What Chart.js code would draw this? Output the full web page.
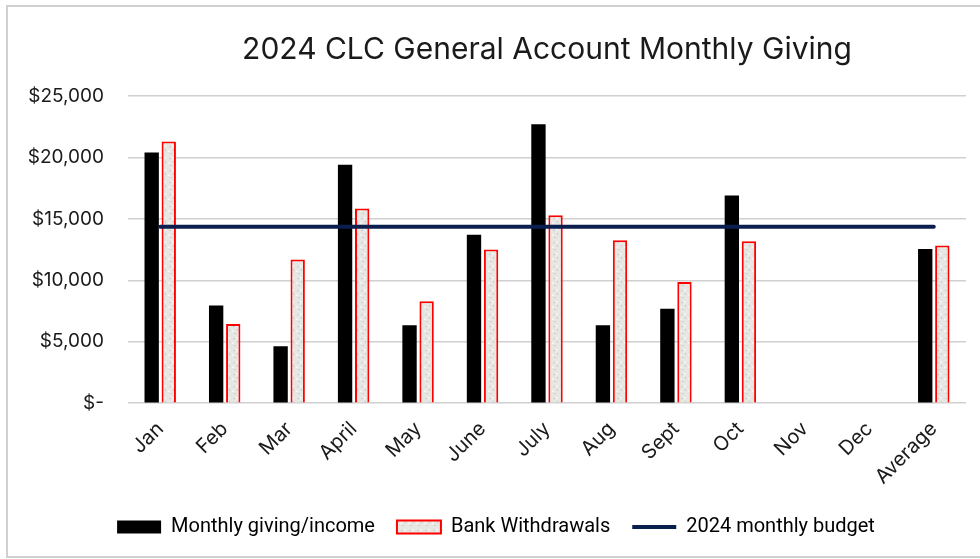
<!DOCTYPE html>
<html>
<head>
<meta charset="utf-8">
<script src="https://cdn.jsdelivr.net/npm/chart.js@4.4.1/dist/chart.umd.min.js"></script>
<style>
  html, body { margin: 0; padding: 0; background: #fff; overflow: hidden; }
  #frame {
    position: absolute; left: 6px; top: 5px; width: 990px; height: 553px;
    border: 2px solid #d0d0d0; box-sizing: border-box;
  }
  #wrap { position: absolute; left: 0; top: 0; width: 980px; height: 559px; }
</style>
</head>
<body>
<div id="frame"></div>
<div id="wrap"><canvas id="chart"></canvas></div>
<script>
// ===== DATA =====
const months = ['Jan', 'Feb', 'Mar', 'April', 'May', 'June', 'July', 'Aug', 'Sept', 'Oct', 'Nov', 'Dec', 'Average'];
const givingIncome = [20400, 7950, 4620, 19400, 6340, 13700, 22700, 6340, 7680, 16900, null, null, 12550];
const bankWithdrawals = [21300, 6450, 11700, 15850, 8300, 12500, 15300, 13250, 9850, 13180, null, null, 12830];
const monthlyBudget = [14350, 14350, 14350, 14350, 14350, 14350, 14350, 14350, 14350, 14350, 14350, 14350, 14350];
const yTicks = [0, 5000, 10000, 15000, 20000, 25000];

// ===== SPECKLED FILL FOR WITHDRAWAL BARS =====
function makePattern() {
  const c = document.createElement('canvas');
  c.width = 8; c.height = 12;
  const g = c.getContext('2d');
  g.fillStyle = '#e6e6e2';
  g.fillRect(0, 0, 8, 12);
  g.fillStyle = '#cdcdc9';
  g.fillRect(1, 2, 2, 1);
  g.fillRect(5, 5, 1, 2);
  g.fillRect(2, 9, 2, 1);
  g.fillStyle = '#f3f3f1';
  g.fillRect(4, 1, 2, 2);
  g.fillRect(0, 6, 2, 2);
  return g.createPattern(c, 'repeat');
}

document.addEventListener('DOMContentLoaded', () => {
  const ctx = document.getElementById('chart').getContext('2d');
  const speckle = makePattern();

  new Chart(ctx, {
    data: {
      labels: months,
      datasets: [
        {
          type: 'line',
          label: '2024 monthly budget',
          data: monthlyBudget,
          borderColor: '#0b1f4e',
          backgroundColor: '#0b1f4e',
          borderWidth: 4,
          borderCapStyle: 'round',
          pointRadius: 0,
          pointStyle: 'line',
          order: 0
        },
        {
          type: 'bar',
          label: 'Monthly giving/income',
          data: givingIncome,
          backgroundColor: '#000',
          borderColor: '#000',
          borderWidth: 0,
          pointStyle: 'rect',
          categoryPercentage: 0.53,
          barPercentage: 0.84,
          order: 1
        },
        {
          type: 'bar',
          label: 'Bank Withdrawals',
          data: bankWithdrawals,
          backgroundColor: speckle,
          borderColor: '#ff0000',
          borderWidth: 2,
          pointStyle: 'rect',
          categoryPercentage: 0.53,
          barPercentage: 0.84,
          order: 2
        }
      ]
    },
    options: {
      responsive: true,
      maintainAspectRatio: false,
      animation: false,
      layout: { padding: { left: 26, right: 14, top: 20, bottom: 12 } },
      plugins: {
        title: {
          display: true,
          text: '2024 CLC General Account Monthly Giving',
          color: '#1a1a1a',
          fullSize: false,
          font: { family: 'Inter', size: 30, weight: 'normal' },
          padding: { top: 12, bottom: 28 }
        },
        legend: {
          position: 'bottom',
          labels: {
            color: '#000',
            font: { family: 'Roboto', size: 20 },
            usePointStyle: true,
            pointStyleWidth: 44,
            boxHeight: 13,
            padding: 22,
            sort: (a, b) => [1, 2, 0].indexOf(a.datasetIndex) - [1, 2, 0].indexOf(b.datasetIndex)
          }
        },
        tooltip: { enabled: false }
      },
      scales: {
        x: {
          grid: { display: false },
          border: { display: false },
          ticks: {
            color: '#1a1a1a',
            font: { family: 'Inter', size: 20 },
            maxRotation: 45,
            minRotation: 45,
            padding: 6
          }
        },
        y: {
          min: 0,
          max: 25000,
          afterBuildTicks: axis => { axis.ticks = yTicks.map(v => ({ value: v })); },
          afterFit: axis => { axis.width = 102; },
          grid: { color: '#d0d0d0', lineWidth: 1.5, drawTicks: false },
          border: { display: false },
          ticks: {
            color: '#1a1a1a',
            font: { family: 'Inter', size: 19 },
            padding: 24,
            callback: v => v === 0 ? '$-' : '$' + v.toLocaleString('en-US')
          }
        }
      }
    }
  });
});
</script>
</body>
</html>
